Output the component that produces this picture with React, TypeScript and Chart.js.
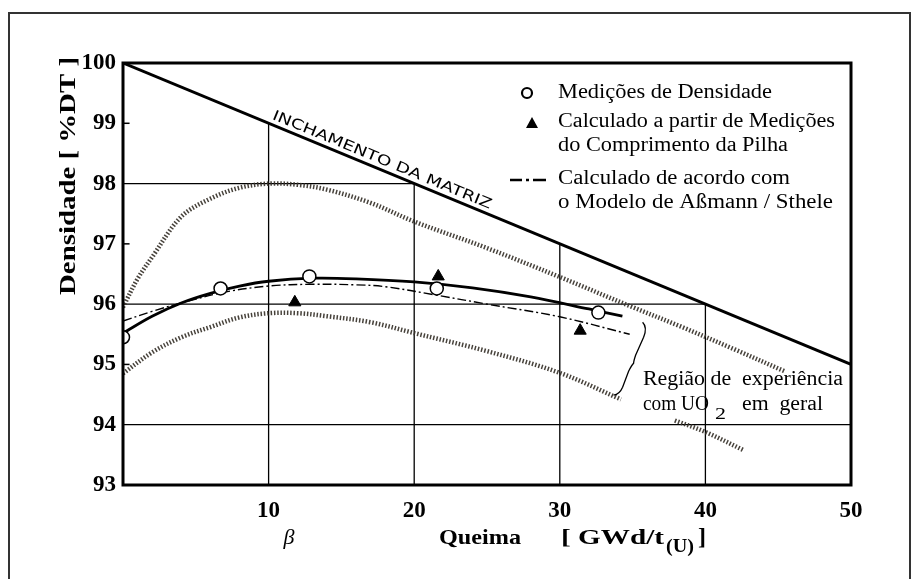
import React, { useEffect, useRef } from 'react';
import { Chart, registerables } from 'chart.js';

Chart.register(...registerables);

// ---- data ----
const xTickValues = [0, 10, 20, 30, 40, 50];
const yTickValues = [93, 94, 95, 96, 97, 98, 99, 100];
const fullGridY = [94, 96, 98];
const shortTickY = [95, 97, 99];
const gridX = [10, 20, 30, 40];

const matrixX = [0, 50];
const matrixY = [100, 95];

const densX = [0, 6.7, 12.8, 21.55, 32.65];
const densY = [95.45, 96.26, 96.46, 96.26, 95.86];

const stackX = [11.8, 21.65, 31.4];
const stackY = [96.03, 96.46, 95.56];

const fitX = [0, 2, 4, 6, 8, 10, 13, 16, 20, 24, 28, 32, 34.3];
const fitY = [95.52, 95.8, 96.02, 96.18, 96.3, 96.38, 96.43, 96.42, 96.37, 96.27, 96.12, 95.92, 95.8];

const modelX = [0, 2, 4, 7, 10, 13, 16, 18, 21.5, 25, 30, 34.8];
const modelY = [95.72, 95.88, 96.02, 96.2, 96.3, 96.33, 96.32, 96.29, 96.15, 96.0, 95.79, 95.5];

const upperX = [0, 1, 2, 4, 6, 8, 10, 12, 14, 17, 20, 25, 30, 35, 38.3, 42, 45.5];
const upperY = [95.95, 96.42, 96.78, 97.45, 97.75, 97.93, 98.0, 97.98, 97.9, 97.68, 97.37, 96.93, 96.45, 95.95, 95.63, 95.25, 94.88];

const lowerX = [0, 2, 4, 6, 8, 10, 12, 14, 17, 20, 25, 30, 34.2];
const lowerY = [94.85, 95.2, 95.45, 95.62, 95.78, 95.85, 95.85, 95.8, 95.7, 95.52, 95.22, 94.86, 94.42];

const strayX = [37.9, 40, 42.6];
const strayY = [94.07, 93.88, 93.58];

const braceAnchorX = 35.0;
const braceAnchorY = 95.02;

const pts = (xs: number[], ys: number[]) => xs.map((x, i) => ({ x, y: ys[i] }));
const matrixAt = (x: number) =>
  matrixY[0] + ((matrixY[1] - matrixY[0]) * (x - matrixX[0])) / (matrixX[1] - matrixX[0]);
const matrixXAt = (y: number) =>
  matrixX[0] + ((matrixX[1] - matrixX[0]) * (y - matrixY[0])) / (matrixY[1] - matrixY[0]);

const SERIF = '"Liberation Serif", "Times New Roman", serif';

function fitText(ctx: CanvasRenderingContext2D, text: string, x: number, y: number, width: number | null, align: 'left' | 'center' = 'left') {
  const w = ctx.measureText(text).width;
  const sx = width ? width / w : 1;
  ctx.save();
  ctx.translate(x, y);
  ctx.scale(sx, 1);
  ctx.textAlign = 'left';
  ctx.fillText(text, align === 'center' ? -w / 2 : 0, 0);
  ctx.restore();
}

const decorPlugin = {
  id: 'decor',
  afterDatasetsDraw(chart: any) {
    const { ctx, chartArea } = chart;
    ctx.save();
    ctx.strokeStyle = '#000';
    ctx.lineWidth = 3;
    ctx.strokeRect(chartArea.left, chartArea.top, chartArea.right - chartArea.left, chartArea.bottom - chartArea.top);
    ctx.restore();
  },
  afterDraw(chart: any) {
    const { ctx, scales } = chart;
    const xs = scales.x, ys = scales.y;
    ctx.save();
    ctx.fillStyle = '#000';
    ctx.strokeStyle = '#000';
    ctx.textBaseline = 'middle';

    // outer frame
    ctx.lineWidth = 2;
    ctx.strokeStyle = '#333';
    ctx.strokeRect(9, 13, 901, 640);
    ctx.strokeStyle = '#000';

    // legend
    ctx.font = `20px ${SERIF}`;
    ctx.lineWidth = 2.2;
    ctx.beginPath();
    ctx.arc(527, 93, 5, 0, Math.PI * 2);
    ctx.stroke();
    fitText(ctx, 'Medições de Densidade', 558, 93, 214);

    ctx.beginPath();
    ctx.moveTo(532, 117);
    ctx.lineTo(538, 128);
    ctx.lineTo(526, 128);
    ctx.closePath();
    ctx.fill();
    fitText(ctx, 'Calculado a partir de Medições', 558, 122, 277);
    fitText(ctx, 'do Comprimento da Pilha', 558, 146, 230);

    ctx.lineWidth = 2.6;
    ctx.beginPath();
    ctx.moveTo(510, 180); ctx.lineTo(522, 180);
    ctx.moveTo(526, 180); ctx.lineTo(529, 180);
    ctx.moveTo(533, 180); ctx.lineTo(546, 180);
    ctx.stroke();
    fitText(ctx, 'Calculado de acordo com', 558, 179, 232);
    fitText(ctx, 'o Modelo de Aßmann / Sthele', 558, 203, 275);

    // Y title
    ctx.save();
    ctx.translate(69, 176);
    ctx.rotate(-Math.PI / 2);
    ctx.font = `bold 23px ${SERIF}`;
    fitText(ctx, 'Densidade [ %DT ]', 0, 0, 238, 'center');
    ctx.restore();

    // X title
    ctx.font = `italic 22px ${SERIF}`;
    fitText(ctx, 'β', 289, 538, null, 'center');
    ctx.font = `bold 22px ${SERIF}`;
    fitText(ctx, 'Queima', 439, 538, 82);
    fitText(ctx, '[ GWd/t', 561, 538, 103);
    ctx.font = `bold 18px ${SERIF}`;
    fitText(ctx, '(U)', 666, 547, 28);
    ctx.font = `bold 24px ${SERIF}`;
    fitText(ctx, ']', 698, 538, null);

    // Matrix swelling label
    const p0x = xs.getPixelForValue(10), p0y = ys.getPixelForValue(matrixAt(10));
    const p1x = xs.getPixelForValue(50), p1y = ys.getPixelForValue(matrixAt(50));
    const ang = Math.atan2(p1y - p0y, p1x - p0x);
    ctx.save();
    ctx.translate(p0x + 1, p0y);
    ctx.rotate(ang);
    ctx.font = `14px "DejaVu Sans", sans-serif`;
    ctx.textBaseline = 'alphabetic';
    fitText(ctx, 'INCHAMENTO DA MATRIZ', 0, -5, 236);
    ctx.restore();

    // region label
    ctx.font = `20px ${SERIF}`;
    fitText(ctx, 'Região de  experiência', 643, 380, 200);
    fitText(ctx, 'com UO', 643, 405, 66);
    ctx.font = `17px ${SERIF}`;
    fitText(ctx, '2', 715, 415, 11);
    ctx.font = `20px ${SERIF}`;
    fitText(ctx, 'em  geral', 742, 405, 81);

    // brace
    const bx = xs.getPixelForValue(braceAnchorX), by = ys.getPixelForValue(braceAnchorY);
    ctx.lineWidth = 1.3;
    ctx.beginPath();
    ctx.moveTo(bx + 10, by - 41);
    ctx.quadraticCurveTo(bx + 15, by - 36, bx + 11, by - 26);
    ctx.lineTo(bx + 3, by - 8);
    ctx.quadraticCurveTo(bx + 1, by - 2, bx + 1, by);
    ctx.quadraticCurveTo(bx - 1, by + 2, bx - 4, by + 8);
    ctx.lineTo(bx - 10, by + 24);
    ctx.quadraticCurveTo(bx - 13, by + 31, bx - 19, by + 32);
    ctx.stroke();

    ctx.restore();
  },
};

export default function App() {
  const ref = useRef<HTMLCanvasElement | null>(null);

  useEffect(() => {
    if (!ref.current) return;

    const gridDatasets: any[] = [];
    gridX.forEach((gx) => {
      gridDatasets.push({
        data: [{ x: gx, y: yTickValues[0] }, { x: gx, y: matrixAt(gx) }],
        borderColor: '#000', borderWidth: 1.3, pointRadius: 0, showLine: true, order: 50,
      });
    });
    fullGridY.forEach((gy) => {
      const xe = Math.min(matrixXAt(gy), xTickValues[xTickValues.length - 1]);
      gridDatasets.push({
        data: [{ x: xTickValues[0], y: gy }, { x: xe, y: gy }],
        borderColor: '#000', borderWidth: 1.3, pointRadius: 0, showLine: true, order: 50,
      });
    });
    shortTickY.forEach((gy) => {
      gridDatasets.push({
        data: [{ x: xTickValues[0], y: gy }, { x: xTickValues[0] + 0.45, y: gy }],
        borderColor: '#000', borderWidth: 1.5, pointRadius: 0, showLine: true, order: 50,
      });
    });

    const band = (xs: number[], ys: number[]) => ({
      data: pts(xs, ys),
      borderColor: 'rgba(55,50,42,0.92)',
      borderWidth: 4.5,
      borderDash: [1.5, 1.8],
      pointRadius: 0,
      showLine: true,
      tension: 0.35,
      order: 40,
    });

    const chart = new Chart(ref.current, {
      type: 'scatter',
      data: {
        datasets: [
          ...gridDatasets,
          band(upperX, upperY),
          band(lowerX, lowerY),
          band(strayX, strayY),
          {
            data: pts(matrixX, matrixY),
            borderColor: '#000', borderWidth: 3, pointRadius: 0, showLine: true, order: 30,
          },
          {
            data: pts(modelX, modelY),
            borderColor: '#000', borderWidth: 1.4, borderDash: [9, 3, 2, 3],
            pointRadius: 0, showLine: true, tension: 0.35, order: 20,
          },
          {
            data: pts(fitX, fitY),
            borderColor: '#000', borderWidth: 2.8, pointRadius: 0, showLine: true, tension: 0.35, order: 15,
          },
          {
            data: pts(densX, densY),
            pointStyle: 'circle', pointRadius: 6.5, backgroundColor: '#fff', borderColor: '#000',
            borderWidth: 1.5, showLine: false, order: 5,
          },
          {
            data: pts(stackX, stackY),
            pointStyle: 'triangle', pointRadius: 7, backgroundColor: '#000', borderColor: '#000',
            borderWidth: 1, showLine: false, order: 4,
          },
        ],
      },
      options: {
        animation: false,
        responsive: false,
        maintainAspectRatio: false,
        layout: { padding: { top: 63, right: 67, left: 0, bottom: 0 } },
        plugins: { legend: { display: false }, tooltip: { enabled: false } },
        scales: {
          x: {
            type: 'linear',
            min: xTickValues[0],
            max: xTickValues[xTickValues.length - 1],
            afterFit: (s: any) => { s.height = 94; },
            grid: { display: false, drawTicks: false },
            border: { display: false },
            ticks: {
              stepSize: 10,
              padding: 12,
              color: '#000',
              maxRotation: 0,
              font: { family: SERIF, size: 23, weight: 'bold' },
              callback: (v: any) => (v === 0 ? '' : String(v)),
            },
          },
          y: {
            type: 'linear',
            min: yTickValues[0],
            max: yTickValues[yTickValues.length - 1],
            afterFit: (s: any) => { s.width = 123; },
            grid: { display: false, drawTicks: false },
            border: { display: false },
            ticks: {
              stepSize: 1,
              padding: 7,
              color: '#000',
              font: { family: SERIF, size: 23, weight: 'bold' },
            },
          },
        },
      } as any,
      plugins: [decorPlugin],
    });
    return () => chart.destroy();
  }, []);

  return (
    <div style={{ position: 'absolute', left: 0, top: 0, width: 918, height: 579, background: '#fff' }}>
      <canvas ref={ref} width={918} height={579} style={{ display: 'block', width: 918, height: 579 }} />
    </div>
  );
}
